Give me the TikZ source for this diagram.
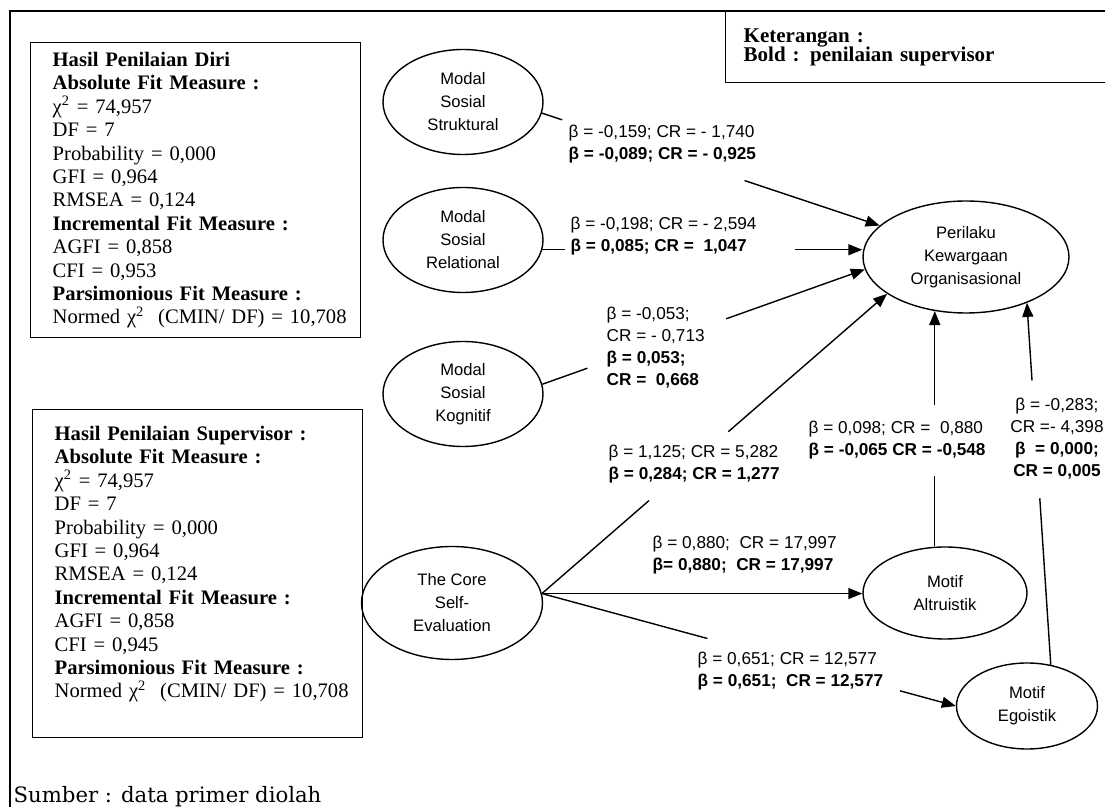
\documentclass[tikz,border=0pt]{standalone}
\usepackage{fontspec}
\setmainfont{Liberation Serif}
\newfontfamily\lblfont{Liberation Sans}
\newfontfamily\srcfont{DejaVu Serif}
\usetikzlibrary{shapes.geometric,arrows.meta}

\begin{document}
\begin{tikzpicture}[x=0.5pt,y=-0.5pt,line width=0.7pt,>={Triangle[length=7pt,width=5.5pt]},
latent/.style={ellipse,draw,inner sep=0pt,align=center,font=\lblfont\fontsize{8.3}{11.5}\selectfont},
coef/.style={anchor=west,align=left,inner sep=0pt,font=\lblfont\fontsize{8.6}{11}\selectfont},
fitbox/.style={draw,anchor=north west,text width=143pt,inner xsep=11pt,align=left,font=\fontsize{10.3}{11.7}\selectfont}]
\useasboundingbox (0,0) rectangle (1105,807);
\draw (10,807) -- (10,11) -- (1105,11);
\node[draw,anchor=north west,text width=180pt,inner xsep=9pt,minimum height=35.5pt,align=left,font=\bfseries\fontsize{10.5}{9.8}\selectfont] (ket) at (725,11) {Keterangan :\\ Bold : penilaian supervisor};
\node[fitbox,minimum height=147.5pt] (diri) at (30,42) {\textbf{Hasil Penilaian Diri}\\ \textbf{Absolute Fit Measure :}\\ χ\textsuperscript{2} = 74,957\\ DF = 7\\ Probability = 0,000\\ GFI = 0,964\\ RMSEA = 0,124\\ \textbf{Incremental Fit Measure :}\\ AGFI = 0,858\\ CFI = 0,953\\ \textbf{Parsimonious Fit Measure :}\\ \mbox{Normed χ\textsuperscript{2}~ (CMIN/ DF) = 10,708}};
\node[fitbox,minimum height=164pt] (spv) at (32,409) {\textbf{Hasil Penilaian Supervisor :}\\ \textbf{Absolute Fit Measure :}\\ χ\textsuperscript{2} = 74,957\\ DF = 7\\ Probability = 0,000\\ GFI = 0,964\\ RMSEA = 0,124\\ \textbf{Incremental Fit Measure :}\\ AGFI = 0,858\\ CFI = 0,945\\ \textbf{Parsimonious Fit Measure :}\\ \mbox{Normed χ\textsuperscript{2}~ (CMIN/ DF) = 10,708}\\ ~};
\node[anchor=west,inner sep=0pt,font=\srcfont\fontsize{10.6}{12}\selectfont] (src) at (13,797) {Sumber : data primer diolah};
\node[latent,minimum width=80pt,minimum height=52.5pt] (struk) at (463,102) {Modal\\ Sosial\\ Struktural};
\node[latent,minimum width=80pt,minimum height=52.5pt] (relat) at (463,240) {Modal\\ Sosial\\ Relational};
\node[latent,minimum width=80pt,minimum height=52.5pt] (kogn) at (463,394) {Modal\\ Sosial\\ Kognitif};
\node[latent,minimum width=90.5pt,minimum height=56.5pt] (core) at (452,603) {The Core\\ Self-\\ Evaluation};
\node[latent,minimum width=103pt,minimum height=56pt] (pkw) at (966,257) {Perilaku\\ Kewargaan\\ Organisasional};
\node[latent,minimum width=82pt,minimum height=46pt] (altr) at (945,593) {Motif\\ Altruistik};
\node[latent,minimum width=70.5pt,minimum height=43pt] (egoi) at (1027,706) {Motif\\ Egoistik};
\node[coef] (b1) at (568,144) {β = -0,159; CR = - 1,740\\ \textbf{β = -0,089; CR = - 0,925}};
\node[coef] (b2) at (570,236) {β = -0,198; CR = - 2,594\\ \textbf{β = 0,085; CR =~ 1,047}};
\node[coef] (b3) at (606,348) {β = -0,053;\\ CR = - 0,713\\ \textbf{β = 0,053;}\\ \textbf{CR =~ 0,668}};
\node[coef] (b4) at (608,464) {β = 1,125; CR = 5,282\\ \textbf{β = 0,284; CR = 1,277}};
\node[coef] (b5) at (808,440) {β = 0,098; CR =~ 0,880\\ \textbf{β = -0,065 CR = -0,548}};
\node[coef,anchor=center,align=center] (b6) at (1057,439) {β = -0,283;\\ CR =- 4,398\\ \textbf{β ~= 0,000;}\\ \textbf{CR = 0,005}};
\node[coef] (b7) at (652,555) {β = 0,880;~ CR = 17,997\\ \textbf{β= 0,880;~ CR = 17,997}};
\node[coef] (b8) at (697,671) {β = 0,651; CR = 12,577\\ \textbf{β = 0,651;~ CR = 12,577}};
\foreach \a/\b/\p/\q in {struk.-8/pkw.160/.06/.6, relat.-7/relat.-7 -| pkw.west/.07/.79, kogn.7/pkw.187/.14/.57, core.6/pkw.205/.31/.54, altr.north -| pkw.240/pkw.240/.3/.6, egoi.60/pkw.323/.46/.785, core.6/egoi.west/.4/.865}
{\path (\a) -- (\b) coordinate[pos=\p] (m1) coordinate[pos=\q] (m2);
\draw (\a) -- (m1);
\draw[->] (m2) -- (\b);}
\draw[->] (core.6) -- (core.6 -| altr.west);
\end{tikzpicture}
\end{document}
